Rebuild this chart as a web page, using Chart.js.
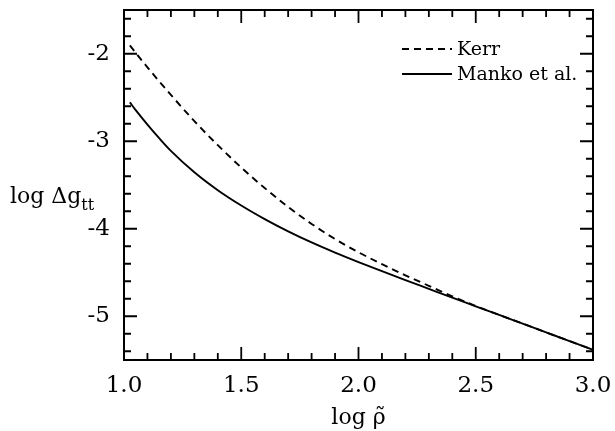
<!DOCTYPE html>
<html>
<head>
<meta charset="utf-8">
<script src="https://cdn.jsdelivr.net/npm/chart.js@4"></script>
<style>
  html, body { margin: 0; padding: 0; background: #fff; }
  #wrap { width: 615px; height: 431px; }
</style>
</head>
<body>
<div id="wrap"><canvas id="chart" width="615" height="431"></canvas></div>
<script>
// valores
const logRho = [1.025, 1.05, 1.1, 1.15, 1.2, 1.3, 1.4, 1.5, 1.6, 1.7, 1.8, 1.9, 2.0, 2.1, 2.2, 2.3, 2.4, 2.5, 2.6, 2.7, 2.8, 2.9, 3.0];
const kerrValues = [-1.905, -1.99, -2.155, -2.315, -2.47, -2.77, -3.045, -3.30, -3.535, -3.75, -3.945, -4.117, -4.269, -4.404, -4.532, -4.652, -4.772, -4.883, -4.984, -5.084, -5.184, -5.284, -5.383];
const mankoValues = [-2.555, -2.645, -2.81, -2.965, -3.11, -3.355, -3.56, -3.735, -3.89, -4.03, -4.157, -4.273, -4.381, -4.485, -4.587, -4.687, -4.787, -4.886, -4.985, -5.084, -5.184, -5.284, -5.383];
const seriesLabels = ['Kerr', 'Manko et al.'];
const xTickValues = [1.0, 1.5, 2.0, 2.5, 3.0];
const yTickValues = [-5, -4, -3, -2];

const tickFont = { family: 'DejaVu Serif', size: 23 };

// moldura, marcas internas, título do eixo y e legenda
const framePlugin = {
  id: 'frame',
  afterDatasetsDraw(chart) {
    const ctx = chart.ctx;
    const a = chart.chartArea;
    const xs = chart.scales.x, ys = chart.scales.y;
    ctx.save();
    ctx.strokeStyle = '#000';
    ctx.lineWidth = 2;
    ctx.strokeRect(a.left, a.top, a.right - a.left, a.bottom - a.top);
    ctx.lineWidth = 1.8;
    ctx.beginPath();
    for (let i = 0; i <= 20; i++) {
      const v = 1 + i * 0.1;
      const len = (i % 5 === 0) ? 13 : 7;
      const px = xs.getPixelForValue(v);
      ctx.moveTo(px, a.bottom); ctx.lineTo(px, a.bottom - len);
      ctx.moveTo(px, a.top); ctx.lineTo(px, a.top + len);
    }
    for (let i = 0; i <= 20; i++) {
      const v = -5.4 + i * 0.2;
      if (v > -1.5) break;
      const isMajor = Math.abs(v - Math.round(v)) < 1e-6;
      const len = isMajor ? 13 : 7;
      const py = ys.getPixelForValue(v);
      ctx.moveTo(a.left, py); ctx.lineTo(a.left + len, py);
      ctx.moveTo(a.right, py); ctx.lineTo(a.right - len, py);
    }
    ctx.stroke();

    // título do eixo y, horizontal com subscrito
    ctx.fillStyle = '#000';
    ctx.textBaseline = 'alphabetic';
    ctx.textAlign = 'left';
    ctx.font = '22px "DejaVu Serif"';
    const base = ys.getPixelForValue(-3.71);
    ctx.fillText('log \u0394g', 10, base);
    const w = ctx.measureText('log \u0394g').width;
    ctx.font = '16px "DejaVu Serif"';
    ctx.fillText('tt', 10 + w, base + 7);

    // legenda
    const legendX = 402, lineLen = 50;
    const rows = [49, 74];
    chart.data.datasets.forEach((ds, i) => {
      const y = rows[i];
      ctx.lineWidth = ds.borderWidth;
      ctx.setLineDash(ds.borderDash || []);
      ctx.beginPath();
      ctx.moveTo(legendX, y);
      ctx.lineTo(legendX + lineLen, y);
      ctx.stroke();
      ctx.setLineDash([]);
      ctx.font = '19px "DejaVu Serif"';
      ctx.textBaseline = 'middle';
      ctx.fillText(ds.label, legendX + lineLen + 5, y + 1);
    });
    ctx.restore();
  }
};

new Chart(document.getElementById('chart'), {
  type: 'line',
  data: {
    datasets: [
      {
        label: seriesLabels[0],
        data: logRho.map((x, i) => ({ x: x, y: kerrValues[i] })),
        borderColor: '#000',
        borderWidth: 1.9,
        borderDash: [7, 5],
        pointRadius: 0,
        cubicInterpolationMode: 'monotone',
        fill: false
      },
      {
        label: seriesLabels[1],
        data: logRho.map((x, i) => ({ x: x, y: mankoValues[i] })),
        borderColor: '#000',
        borderWidth: 1.9,
        pointRadius: 0,
        cubicInterpolationMode: 'monotone',
        fill: false
      }
    ]
  },
  options: {
    responsive: false,
    animation: false,
    layout: { padding: { top: 10, right: 22, left: 0, bottom: 0 } },
    plugins: { legend: { display: false }, tooltip: { enabled: false } },
    scales: {
      x: {
        type: 'linear',
        min: 1,
        max: 3,
        afterBuildTicks: scale => { scale.ticks = xTickValues.map(v => ({ value: v })); },
        afterFit: scale => {
          scale.height = 71;
          scale.paddingLeft = 0;
          scale.paddingRight = 0;
        },
        grid: { display: false, drawTicks: false },
        border: { display: false },
        ticks: {
          font: tickFont,
          color: '#000',
          padding: 12,
          maxRotation: 0,
          autoSkip: false,
          callback: v => Number(v).toFixed(1)
        },
        title: {
          display: true,
          text: 'log \u03C1\u0303',
          font: { family: 'DejaVu Serif', size: 22, lineHeight: 1.0 },
          color: '#000',
          padding: { top: 0, bottom: 2 }
        }
      },
      y: {
        type: 'linear',
        min: -5.5,
        max: -1.5,
        afterBuildTicks: scale => { scale.ticks = yTickValues.map(v => ({ value: v })); },
        afterFit: scale => {
          scale.width = 124;
          scale.paddingTop = 0;
          scale.paddingBottom = 0;
        },
        grid: { display: false, drawTicks: false },
        border: { display: false },
        ticks: {
          font: tickFont,
          color: '#000',
          padding: 14,
          autoSkip: false,
          callback: v => String(v)
        }
      }
    }
  },
  plugins: [framePlugin]
});
</script>
</body>
</html>
